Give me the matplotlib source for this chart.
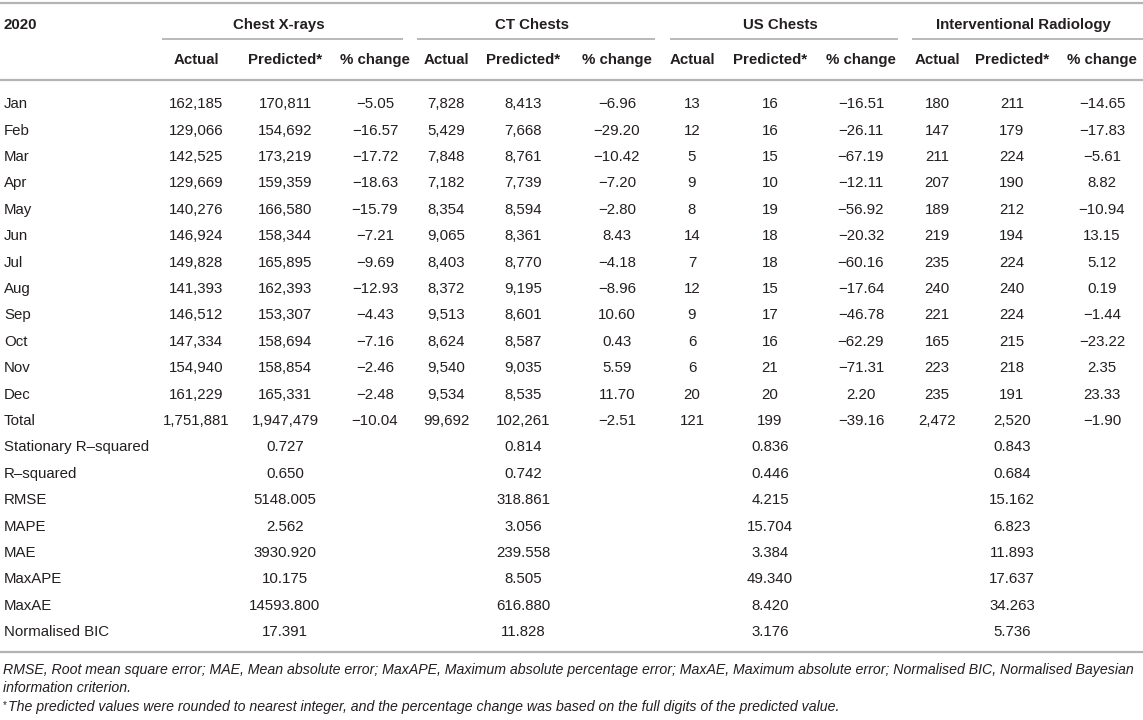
import matplotlib
matplotlib.use("Agg")
import matplotlib.pyplot as plt

# ---------------- data ----------------
months = ["Jan", "Feb", "Mar", "Apr", "May", "Jun", "Jul", "Aug", "Sep", "Oct", "Nov", "Dec", "Total"]

xray_actual = ["162,185", "129,066", "142,525", "129,669", "140,276", "146,924", "149,828", "141,393", "146,512", "147,334", "154,940", "161,229", "1,751,881"]
xray_pred = ["170,811", "154,692", "173,219", "159,359", "166,580", "158,344", "165,895", "162,393", "153,307", "158,694", "158,854", "165,331", "1,947,479"]
xray_pct = ["−5.05", "−16.57", "−17.72", "−18.63", "−15.79", "−7.21", "−9.69", "−12.93", "−4.43", "−7.16", "−2.46", "−2.48", "−10.04"]

ct_actual = ["7,828", "5,429", "7,848", "7,182", "8,354", "9,065", "8,403", "8,372", "9,513", "8,624", "9,540", "9,534", "99,692"]
ct_pred = ["8,413", "7,668", "8,761", "7,739", "8,594", "8,361", "8,770", "9,195", "8,601", "8,587", "9,035", "8,535", "102,261"]
ct_pct = ["−6.96", "−29.20", "−10.42", "−7.20", "−2.80", "8.43", "−4.18", "−8.96", "10.60", "0.43", "5.59", "11.70", "−2.51"]

us_actual = ["13", "12", "5", "9", "8", "14", "7", "12", "9", "6", "6", "20", "121"]
us_pred = ["16", "16", "15", "10", "19", "18", "18", "15", "17", "16", "21", "20", "199"]
us_pct = ["−16.51", "−26.11", "−67.19", "−12.11", "−56.92", "−20.32", "−60.16", "−17.64", "−46.78", "−62.29", "−71.31", "2.20", "−39.16"]

ir_actual = ["180", "147", "211", "207", "189", "219", "235", "240", "221", "165", "223", "235", "2,472"]
ir_pred = ["211", "179", "224", "190", "212", "194", "224", "240", "224", "215", "218", "191", "2,520"]
ir_pct = ["−14.65", "−17.83", "−5.61", "8.82", "−10.94", "13.15", "5.12", "0.19", "−1.44", "−23.22", "2.35", "23.33", "−1.90"]

stat_names = ["Stationary R–squared", "R–squared", "RMSE", "MAPE", "MAE", "MaxAPE", "MaxAE", "Normalised BIC"]
xray_stats = ["0.727", "0.650", "5148.005", "2.562", "3930.920", "10.175", "14593.800", "17.391"]
ct_stats = ["0.814", "0.742", "318.861", "3.056", "239.558", "8.505", "616.880", "11.828"]
us_stats = ["0.836", "0.446", "4.215", "15.704", "3.384", "49.340", "8.420", "3.176"]
ir_stats = ["0.843", "0.684", "15.162", "6.823", "11.893", "17.637", "34.263", "5.736"]

groups = ["Chest X-rays", "CT Chests", "US Chests", "Interventional Radiology"]
subheads = ["Actual", "Predicted*", "% change"]
year_label = "2020"

footnote1 = ("RMSE, Root mean square error; MAE, Mean absolute error; MaxAPE, Maximum absolute percentage error; "
             "MaxAE, Maximum absolute error; Normalised BIC, Normalised Bayesian")
footnote2 = "information criterion."
footnote3 = "The predicted values were rounded to nearest integer, and the percentage change was based on the full digits of the predicted value."

# ---------------- layout ----------------
W, H = 1143, 720
fig = plt.figure(figsize=(W / 100, H / 100), dpi=100)
ax = fig.add_axes([0, 0, 1, 1])
ax.set_xlim(0, W)
ax.set_ylim(H, 0)
ax.axis("off")

FONT = "Liberation Sans"
FS = 10.8
TXT = "#231f20"
LINE = "#b3b3b3"

col_x = [[196, 285, 375], [446, 523, 617], [692, 770, 861], [937, 1012, 1102]]
group_span = [(162, 403), (417, 655), (670, 898), (912, 1143)]

row_y0 = 104
row_dy = 26.4
base_off = 4.2


def put(x, y, s, ha="center", weight="normal", style="normal", size=FS):
    ax.text(x, y + base_off, s, ha=ha, va="baseline", fontsize=size,
            family=FONT, weight=weight, style=style, color=TXT)

# rules
ax.plot([0, W], [3, 3], color=LINE, lw=1.6, solid_capstyle="butt")
ax.plot([0, W], [80, 80], color=LINE, lw=1.6, solid_capstyle="butt")
ax.plot([0, W], [652, 652], color=LINE, lw=1.6, solid_capstyle="butt")
for (a, b) in group_span:
    ax.plot([a, b], [39, 39], color=LINE, lw=1.3, solid_capstyle="butt")

# header
put(4, 25, year_label, ha="left", weight="bold")
for g, (a, b) in zip(groups, group_span):
    put((a + b) / 2 - 4, 25, g, weight="bold")
for cx in col_x:
    for x, s in zip(cx, subheads):
        put(x, 60, s, weight="bold")

# monthly rows + total
series = [(xray_actual, xray_pred, xray_pct), (ct_actual, ct_pred, ct_pct),
          (us_actual, us_pred, us_pct), (ir_actual, ir_pred, ir_pct)]
for i, m in enumerate(months):
    y = row_y0 + i * row_dy
    put(4, y, m, ha="left")
    for cx, triple in zip(col_x, series):
        for x, arr in zip(cx, triple):
            put(x, y, arr[i])

# statistics rows
stats = [xray_stats, ct_stats, us_stats, ir_stats]
for j, name in enumerate(stat_names):
    y = row_y0 + (len(months) + j) * row_dy
    put(4, y, name, ha="left")
    for cx, arr in zip(col_x, stats):
        put(cx[1], y, arr[j])

# footnotes
FS2 = 10.15
put(3, 670, footnote1, ha="left", style="italic", size=FS2)
put(3, 688, footnote2, ha="left", style="italic", size=FS2)
put(3, 704, "*", ha="left", size=7)
put(8, 707, footnote3, ha="left", style="italic", size=FS2)

fig.savefig("out.png", dpi=100)
